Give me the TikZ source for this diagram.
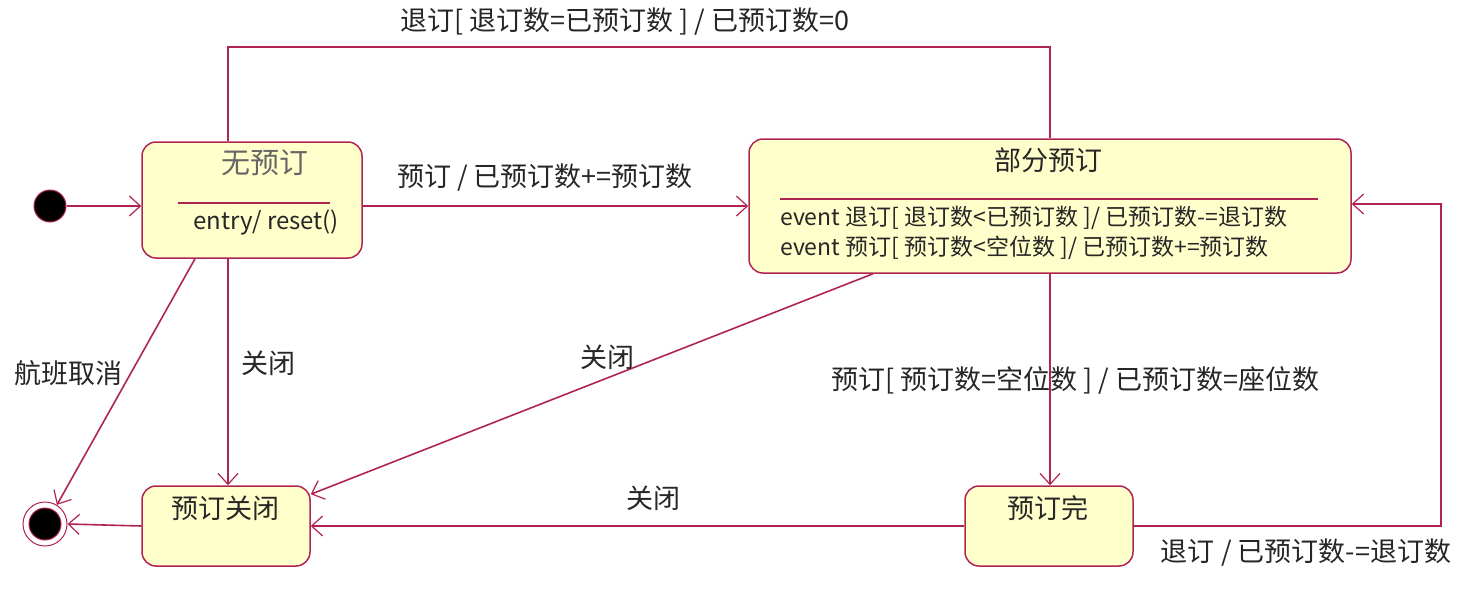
\documentclass[tikz,border=0pt]{standalone}
\usepackage{fontspec}
\setmainfont{Noto Sans CJK SC}
\usetikzlibrary{arrows.meta}
\definecolor{edgec}{RGB}{176,36,84}
\definecolor{fillc}{RGB}{255,255,204}
\begin{document}
\begin{tikzpicture}[x=1pt,y=-1pt,
  st/.style={draw=edgec, fill=fillc, line width=1.5pt, rounded corners=14pt, inner sep=0},
  ln/.style={draw=edgec, line width=1.6pt},
  tr/.style={ln, -{Straight Barb[length=11pt,width=20pt,line width=1.2pt]}},
  lbl/.style={font=\fontsize{27}{27}\selectfont, inner sep=0, text=black!85},
  small/.style={font=\fontsize{23}{23}\selectfont, inner sep=0, text=black!85},
]
\useasboundingbox[fill=white] (0,0) rectangle (1470,590);
% states
\node[st, minimum width=220pt, minimum height=116pt] (none) at (252,200) {};
\node[st, minimum width=602pt, minimum height=134pt] (part) at (1050,206) {};
\node[st, minimum width=168pt, minimum height=80pt] (closed) at (226,526) {};
\node[st, minimum width=168pt, minimum height=80pt] (full) at (1049,526) {};
\node[circle, fill=black, draw=edgec, line width=1pt, minimum size=32pt, inner sep=0] (init) at (50,206) {};
\node[circle, draw=edgec, line width=1pt, minimum size=44pt, inner sep=0] (fin) at (45,524) {};
\node[circle, fill=black, draw=edgec, line width=1pt, minimum size=32pt, inner sep=0] (finin) at (fin) {};
% state texts
\node[lbl, text=black!60, font=\fontsize{29}{29}\selectfont] (t1) at (265,163) {无预订};
\draw[ln] (178,203) -- (330,203);
\node[small, font=\fontsize{24}{24}\selectfont] (t1b) at (266,222) {entry/ reset()};
\node[lbl] (t2) at (1048,160) {部分预订};
\draw[ln] (780,199) -- (1318,199);
\node[small, anchor=west] (t2a) at (780,218) {event 退订[ 退订数<已预订数 ]/ 已预订数-=退订数};
\node[small, anchor=west] (t2b) at (780,248) {event 预订[ 预订数<空位数 ]/ 已预订数+=预订数};
\node[lbl] (t3) at (225,508) {预订关闭};
\node[lbl] (t4) at (1048,508) {预订完};
% transitions
\draw[tr] (init.east) -- (none.west |- init);
\draw[tr] (none.east |- part.west) -- (part.west);
\draw[ln] ([xshift=-24pt]none.north) -- ++(0,-94) -| (part.north);
\draw[tr] ([xshift=-24pt]none.south) -- ([xshift=2pt]closed.north);
\draw[tr] ([xshift=-57pt]none.south) -- (fin.58);
\draw[tr] ([xshift=-177pt]part.south) -- ([yshift=-9pt]closed.north east);
\draw[tr] (part.south) -- (full.north -| part.south);
\draw[tr] (full.west) -- (closed.east);
\draw[tr] (closed.west) -- (fin.east);
\draw[tr] (full.east) -- ++(307,0) |- ([yshift=2pt]part.east);
% labels
\node[lbl] (l1) at (545,178) {预订 / 已预订数+=预订数};
\node[lbl] (l2) at (625,22) {退订[ 退订数=已预订数 ] / 已预订数=0};
\node[lbl] (l3) at (268,363) {关闭};
\node[lbl] (l4) at (68,373) {航班取消};
\node[lbl] (l5) at (607,357) {关闭};
\node[lbl] (l6) at (1075,380) {预订[ 预订数=空位数 ] / 已预订数=座位数};
\node[lbl] (l7) at (653,498) {关闭};
\node[lbl] (l8) at (1306,553) {退订 / 已预订数-=退订数};
\end{tikzpicture}
\end{document}
